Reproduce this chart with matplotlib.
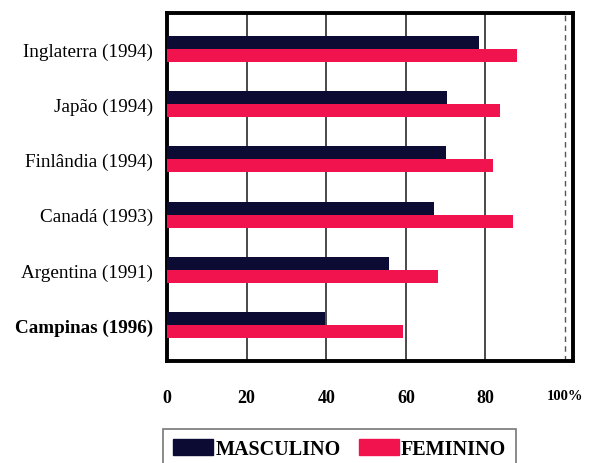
import matplotlib
matplotlib.use("Agg")
import matplotlib.pyplot as plt
import numpy as np
from matplotlib.patches import Patch

categories = ["Inglaterra (1994)", "Japão (1994)", "Finlândia (1994)",
              "Canadá (1993)", "Argentina (1991)", "Campinas (1996)"]
masculino = [78.4, 70.4, 70.1, 67.1, 55.7, 39.8]
feminino = [87.9, 83.7, 81.9, 86.9, 68.2, 59.3]
xticks = [0, 20, 40, 60, 80, 100]
xticklabels = ["0", "20", "40", "60", "80", "100%"]
series_names = ["MASCULINO", "FEMININO"]

c_masc = "#0b0b33"
c_fem = "#f0134d"

plt.rcParams['font.family'] = ['Liberation Serif', 'DejaVu Serif']

fig = plt.figure(figsize=(5.93, 4.64), dpi=100)
ax = fig.add_axes([167/593, 1-362/464, (573-167)/593, (362-14)/464])

y = np.arange(len(categories))
h = 0.235
ax.barh(y - h/2, masculino, height=h, color=c_masc, zorder=3)
ax.barh(y + h/2, feminino, height=h, color=c_fem, zorder=3)

ax.set_ylim(len(categories) - 0.35, -0.65)
ax.set_xlim(0, 102)

for v in [20, 40, 60, 80]:
    ax.axvline(v, color="#3a3a3a", lw=1.3, zorder=2)
ax.axvline(100, color="#555555", lw=1.0, ls=(0, (4, 3)), zorder=2)

ax.set_yticks(y)
ax.set_yticklabels(categories, fontsize=13.8)
ax.get_yticklabels()[-1].set_fontweight("bold")
ax.set_xticks(xticks)
ax.set_xticklabels(xticklabels, fontsize=13, fontweight="bold")
last = ax.get_xticklabels()[-1]
last.set_fontsize(10.5)
ax.tick_params(axis="x", length=0, pad=20)
ax.tick_params(axis="y", length=0, pad=10)

for s in ax.spines.values():
    s.set_linewidth(2.8)
    s.set_color("black")

handles = [Patch(facecolor=c_masc, edgecolor=c_masc),
           Patch(facecolor=c_fem, edgecolor=c_fem)]
leg = fig.legend(handles, series_names, loc="upper left",
                 bbox_to_anchor=(163/593, 1-430/464), ncol=2,
                 prop={"weight": "bold", "size": 14.5},
                 handlelength=2.0, handleheight=0.8, handletextpad=0.1,
                 columnspacing=0.9, frameon=True, fancybox=False,
                 borderpad=0.5, borderaxespad=0)
leg.get_frame().set_edgecolor("#555555")
leg.get_frame().set_linewidth(1.2)

fig.savefig("out.png", dpi=100)
